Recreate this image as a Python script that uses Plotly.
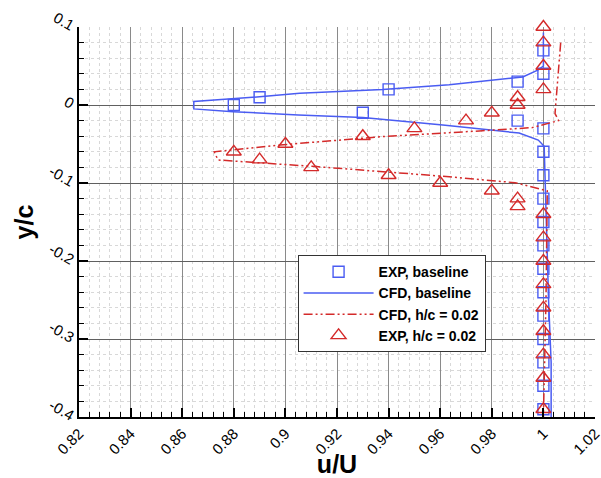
import plotly.graph_objects as go

# EXP baseline (squares)
exp_base_u = [1.0, 1.0, 0.99, 0.94, 0.89, 0.88, 0.93, 0.99, 1.0, 1.0, 1.0, 1.0, 1.0,
              1.0, 1.0, 1.0, 1.0, 1.0, 1.0, 1.0, 1.0]
exp_base_y = [0.07, 0.04, 0.03, 0.02, 0.01, 0.0, -0.01, -0.02, -0.03, -0.06, -0.09, -0.12, -0.15,
              -0.18, -0.21, -0.24, -0.27, -0.30, -0.33, -0.36, -0.39]

# CFD baseline (solid line)
cfd_base_u = [1.0, 1.0, 0.998, 0.992, 0.9635, 0.9377, 0.9055, 0.89, 0.8645, 0.8645, 0.8797,
              0.905, 0.93, 0.961, 0.9906, 0.998, 1.0003, 1.001, 1.002, 1.003, 1.003]
cfd_base_y = [0.093, 0.05, 0.045, 0.036, 0.026, 0.02, 0.015, 0.0106, 0.0045, -0.005, -0.0085,
              -0.0128, -0.016, -0.0256, -0.036, -0.045, -0.053, -0.15, -0.25, -0.33, -0.40]

# CFD h/c = 0.02 (dash-dot-dot line)
cfd_h_u = [1.0067, 1.0045, 1.0059, 0.9957, 0.9764, 0.9377, 0.8978, 0.8724, 0.8739, 0.912,
           0.9635, 0.989, 1.0015, 1.001, 1.0]
cfd_h_y = [0.08, -0.011, -0.02, -0.029, -0.033, -0.0405, -0.0513, -0.06, -0.0705, -0.079,
           -0.092, -0.0996, -0.11, -0.25, -0.40]

# EXP h/c = 0.02 (triangles)
exp_h_u = [1.0, 1.0, 1.0, 1.0, 0.99, 0.99, 0.98, 0.97, 0.95, 0.93, 0.90, 0.88, 0.89, 0.91,
           0.94, 0.96, 0.98, 0.99, 0.99, 1.0, 1.0, 1.0, 1.0, 1.0, 1.0, 1.0, 1.0, 1.0]
exp_h_y = [0.10, 0.08, 0.05, 0.02, 0.01, 0.0, -0.01, -0.02, -0.03, -0.04, -0.05, -0.06, -0.07,
           -0.08, -0.09, -0.10, -0.11, -0.12, -0.13, -0.14, -0.17, -0.20, -0.23, -0.26, -0.29,
           -0.32, -0.35, -0.39]

x_ticks = [0.82, 0.84, 0.86, 0.88, 0.9, 0.92, 0.94, 0.96, 0.98, 1, 1.02]
x_tick_labels = ["0.82", "0.84", "0.86", "0.88", "0.9", "0.92", "0.94", "0.96", "0.98", "1", "1.02"]
y_ticks = [0.1, 0, -0.1, -0.2, -0.3, -0.4]
y_tick_labels = ["0.1", "0", "-0.1", "-0.2", "-0.3", "-0.4"]

BLUE = "#4a5cf2"
RED = "#d42a2a"

fig = go.Figure()
fig.add_trace(go.Scatter(x=exp_base_u, y=exp_base_y, mode="markers", name="EXP, baseline",
                         cliponaxis=False,
                         marker=dict(symbol="square-open", size=11, color=BLUE, line=dict(width=1.4))))
fig.add_trace(go.Scatter(x=cfd_base_u, y=cfd_base_y, mode="lines", name="CFD, baseline",
                         line=dict(color=BLUE, width=1.5)))
fig.add_trace(go.Scatter(x=cfd_h_u, y=cfd_h_y, mode="lines", name="CFD, h/c = 0.02",
                         line=dict(color=RED, width=1.5, dash="9px,3px,2px,3px,2px,3px")))
fig.add_trace(go.Scatter(x=exp_h_u, y=exp_h_y, mode="markers", name="EXP, h/c = 0.02",
                         cliponaxis=False,
                         marker=dict(symbol="triangle-up-open", size=13, color=RED, line=dict(width=1.4))))

fig.update_layout(
    width=601, height=478,
    margin=dict(l=79, r=6, t=27, b=61),
    paper_bgcolor="white", plot_bgcolor="white",
    font=dict(family="Liberation Sans, Arial, sans-serif", color="black"),
    legend=dict(x=0.4236, y=0.415, xanchor="left", yanchor="top",
                bgcolor="white", bordercolor="#333", borderwidth=1,
                font=dict(size=14, family="Liberation Sans, Arial, sans-serif", weight="bold"),
                itemwidth=70, tracegroupgap=0),
    showlegend=True,
)

fig.update_xaxes(
    range=[0.82, 1.02], tickvals=x_ticks, ticktext=x_tick_labels, tickangle=-45,
    tickfont=dict(size=15), showgrid=True, gridcolor="#8a8a8a", gridwidth=1,
    zeroline=False, showline=True, linecolor="black", linewidth=2,
    ticks="inside", ticklen=9, tickwidth=2, tickcolor="black",
    ticklabeloverflow="allow",
    minor=dict(dtick=0.004, showgrid=True, gridcolor="#d8d8d8", griddash="dot",
               ticks="inside", ticklen=5, tickwidth=1, tickcolor="black"),
    title=dict(text="<b>u/U</b>", font=dict(size=25), standoff=2),
    automargin=False,
)
fig.update_yaxes(
    range=[-0.4, 0.1], tickvals=y_ticks, ticktext=y_tick_labels, tickangle=30,
    tickfont=dict(size=15), showgrid=True, gridcolor="#606060", gridwidth=1,
    zeroline=False, showline=True, linecolor="black", linewidth=2,
    ticks="inside", ticklen=9, tickwidth=2, tickcolor="black",
    ticklabeloverflow="allow",
    minor=dict(dtick=0.02, showgrid=True, gridcolor="#d8d8d8", griddash="dot",
               ticks="inside", ticklen=5, tickwidth=1, tickcolor="black"),
    title=dict(text="<b>y/c</b>", font=dict(size=25), standoff=6),
    automargin=False,
)

fig.write_html("out.html")
